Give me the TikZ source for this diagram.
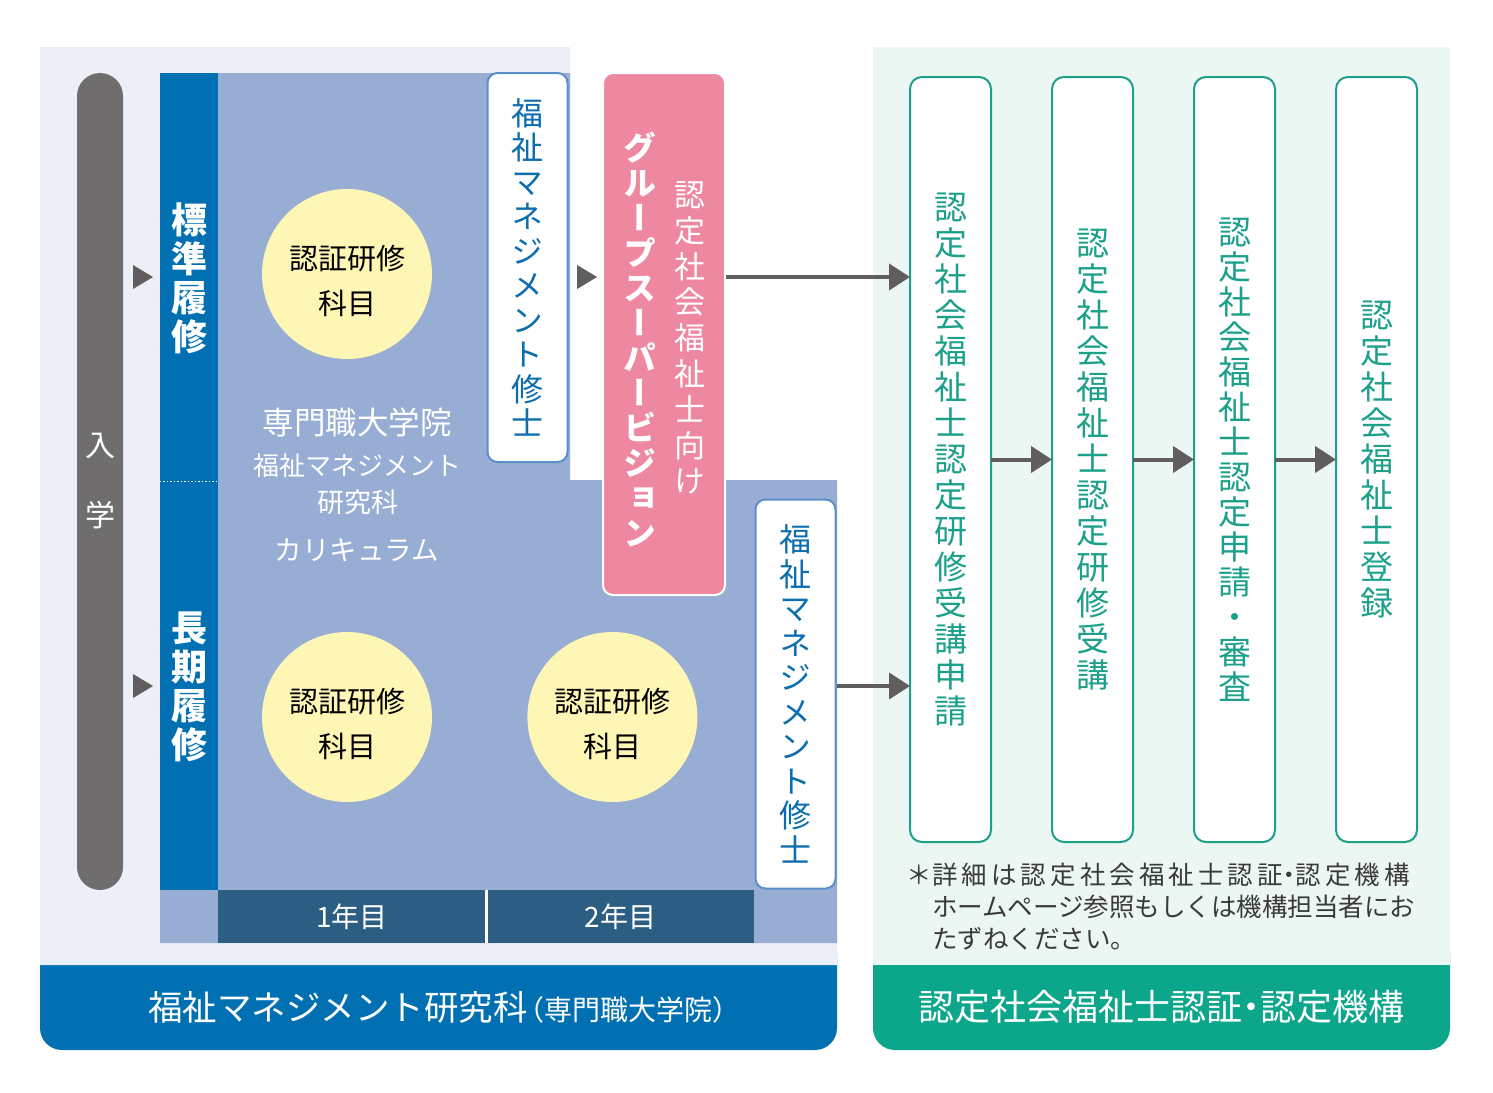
\documentclass[tikz,border=0pt]{standalone}
\usepackage{fontspec}
\setmainfont{Noto Sans CJK JP}
\newfontfamily\vjp[RawFeature=+vert]{Noto Sans CJK JP}
\newfontfamily\notesp[LetterSpace=16]{Noto Sans CJK JP}
\usetikzlibrary{positioning, arrows.meta}

\definecolor{panelL}{HTML}{ECEFF6}
\definecolor{panelR}{HTML}{ECF6F3}
\definecolor{deptblue}{HTML}{0070B2}
\definecolor{currblue}{HTML}{97ADD4}
\definecolor{yearblue}{HTML}{2C5E84}
\definecolor{pillgray}{HTML}{6F6D6E}
\definecolor{arrowgray}{HTML}{5F5D5E}
\definecolor{subjyellow}{HTML}{FEF6B5}
\definecolor{svpink}{HTML}{EE87A0}
\definecolor{orggreen}{HTML}{0CA68B}
\definecolor{stepgreen}{HTML}{1CA08A}
\definecolor{degreeblue}{HTML}{0C6DAF}
\definecolor{degreeline}{HTML}{5C8FCA}
\definecolor{notegray}{HTML}{3A3A3A}

% vertical text, one character per line
\def\tateend{}
\def\tateloop#1{\ifx\tateend#1\else\hbox to 1em{\hss#1\hss}\expandafter\tateloop\fi}
\newcommand\tate[2][1.1em]{\vbox{\baselineskip=#1\relax\lineskiplimit=-\maxdimen\tateloop#2\tateend}}
% narrow middle dot
\newcommand\nakaguro{\makebox[0.5em]{・}}

\begin{document}
\begin{tikzpicture}[x=1pt, y=-1pt,
    flow/.style={draw=arrowgray, line width=4pt, -{Triangle[length=21pt, width=26pt]}},
    stepbox/.style={draw=stepgreen, line width=2pt, fill=white, rounded corners=12pt, outer sep=0pt,
        minimum width=81pt, minimum height=765pt, inner sep=0pt, text=stepgreen, font=\vjp\fontsize{33}{36}\selectfont},
    degree/.style={draw=degreeline, line width=2pt, fill=white, rounded corners=10pt,
        minimum width=80pt, minimum height=389pt, inner sep=0pt, text=degreeblue, font=\vjp\fontsize{32}{35}\selectfont},
    subject/.style={circle, fill=subjyellow, minimum size=170pt, inner sep=0pt, align=center, font=\fontsize{29}{45}\selectfont},
    yearbox/.style={fill=yearblue, minimum width=268pt, minimum height=53pt, inner sep=0pt, text=white, font=\fontsize{28}{28}\selectfont},
    track/.style={text=white, font=\vjp\bfseries\fontsize{36}{39}\selectfont},
    currtext/.style={text=white, font=\fontsize{27}{27}\selectfont},
    bartext/.style={text=white, font=\fontsize{34.5}{34.5}\selectfont}]
\useasboundingbox[fill=white] (0,0) rectangle (1493,1092);

% panels and bars
\fill[deptblue, rounded corners=22pt] (40,930) rectangle (837,1050);
\fill[orggreen, rounded corners=22pt] (873,930) rectangle (1450,1050);
\fill[panelL] (40,47) -- (570,47) -- (570,480) -- (837,480) -- (837,965) -- (40,965) -- cycle;
\fill[panelR] (873,47) rectangle (1450,965);
\fill[currblue] (218,73) -- (570,73) -- (570,480) -- (837,480) -- (837,943) -- (160,943) -- (160,890) -- (218,890) -- cycle;

\node[bartext] (deptname) at (439,1007) {福祉マネジメント研究科{\fontsize{28}{28}\selectfont\makebox[0.6em][r]{（}専門職大学院\makebox[0.6em][l]{）}}};
\node[bartext, font=\fontsize{36}{36}\selectfont] (orgname) at (1161.5,1007) {認定社会福祉士認証\nakaguro 認定機構};

% left side
\node[fill=pillgray, rounded corners=23pt, minimum width=46pt, minimum height=817pt, inner sep=0pt,
    text=white, font=\fontsize{30}{30}\selectfont] (enroll) at (100,481.5) {\tate[70pt]{入学}};

\node[fill=deptblue, minimum width=58pt, minimum height=817pt, inner sep=0pt] (trackbar) at (189,481.5) {};
\draw[white, dotted, line width=1.5pt] (trackbar.west) -- (trackbar.east);
\node[track] (standard) at (189,278) {\tate[39pt]{標準履修}};
\node[track] (extended) at (189,687) {\tate[39pt]{長期履修}};

\node[subject] (subj1) at (347,274) {\rule{0pt}{38pt}認証研修\\科目};
\node[subject] (subj2) at (347,717) {\rule{0pt}{38pt}認証研修\\科目};
\node[subject] (subj3) [right=95pt of subj2] {\rule{0pt}{38pt}認証研修\\科目};

\node[currtext, font=\fontsize{31.5}{31.5}\selectfont] (school) at (357,422) {専門職大学院};
\node[currtext, font=\fontsize{26}{26}\selectfont] (dept) at (357,466) {福祉マネジメント};
\node[currtext] (deptb) at (358,502) {研究科};
\node[currtext, font=\fontsize{27.5}{27.5}\selectfont] (curric) at (357,550) {カリキュラム};

\node[yearbox] (year1) at (352,916.5) {1年目};
\node[yearbox] (year2) [right=0pt of year1] {2年目};
\draw[white, line width=3pt] (year1.north east) -- (year1.south east);

\node[degree] (degreeA) at (527.5,267.5) {\tate[34.5pt]{福祉マネジメント修士}};
\node[degree] (degreeB) at (795.5,694) {\tate[34.5pt]{福祉マネジメント修士}};

\node[fill=svpink, draw=white, line width=2pt, rounded corners=10pt, minimum width=122pt, minimum height=522pt] (supervision) at (664,334) {};
\node[text=white, font=\vjp\bfseries\fontsize{33}{35}\selectfont] (svtitle) at (640,339) {\tate[35pt]{グループスーパービジョン}};
\node[text=white, font=\vjp\fontsize{31}{35}\selectfont] (svtarget) at (690,338) {\tate[35.8pt]{認定社会福祉士向け}};

\foreach \x/\y in {143/277, 143/686, 587/277}
    \fill[arrowgray] (\x-10,\y-12) -- (\x+10,\y) -- (\x-10,\y+12) -- cycle;

% right side
\node[stepbox] (step1) at (950.5,459.5) {\tate[36pt]{認定社会福祉士認定研修受講申請}};
\node[stepbox] (step2) [right=61pt of step1] {\tate[36pt]{認定社会福祉士認定研修受講}};
\node[stepbox] (step3) [right=61pt of step2] {\tate[35pt]{認定社会福祉士認定申請・審査}};
\node[stepbox] (step4) [right=61pt of step3] {\tate[36pt]{認定社会福祉士登録}};

\coordinate (stdrow) at (0,277);
\coordinate (longrow) at (0,686);
\draw[flow] (supervision.east |- stdrow) -- (step1.west |- stdrow);
\draw[flow] (degreeB.east |- longrow) -- (step1.west |- longrow);
\foreach \a/\b in {step1/step2, step2/step3, step3/step4}
    \draw[flow] (\a) -- (\b);

\node[anchor=north west, align=left, text=notegray, font=\fontsize{25.5}{32}\selectfont, inner sep=0pt] (note) at (906,863)
    {\makebox[26pt][l]{＊}{\notesp\fontsize{25.5}{32}\selectfont 詳細は認定社会福祉士認証\nakaguro 認定機構}\\
     \hspace*{26pt}ホームページ参照もしくは機構担当者にお\\
     \hspace*{26pt}たずねください。};
\end{tikzpicture}
\end{document}
